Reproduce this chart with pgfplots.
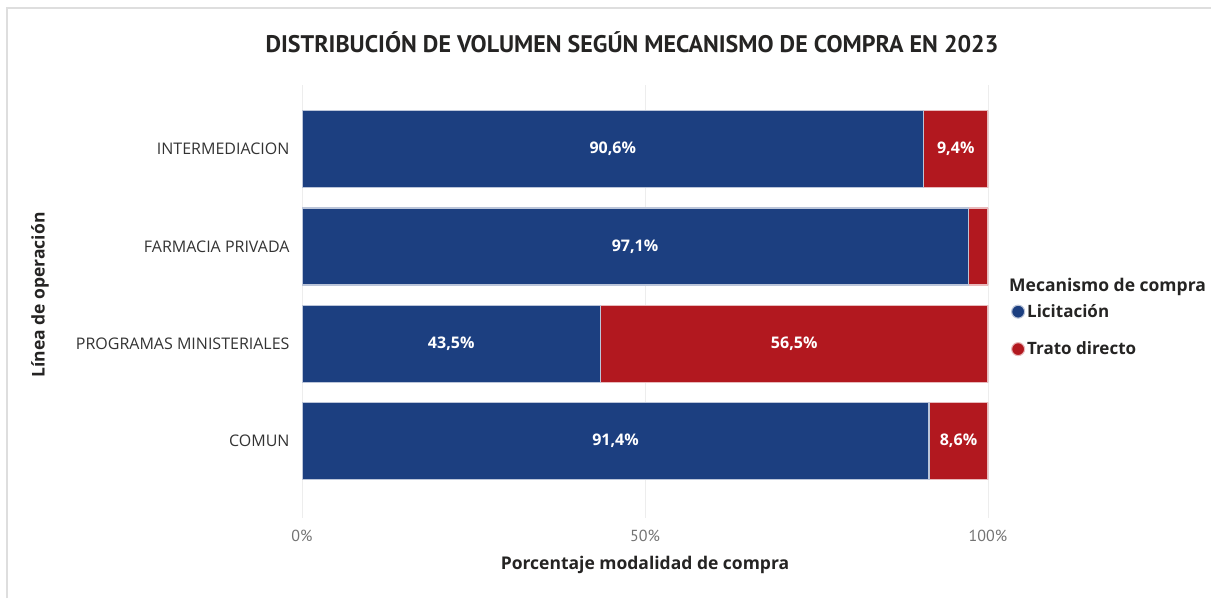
\documentclass[border=0pt]{standalone}
\usepackage{fontspec}
\setmainfont{Open Sans}
\newfontfamily\dinfont{PT Sans}
\usepackage{pgfplots}
\pgfplotsset{compat=1.18}
\definecolor{blueC}{HTML}{1C3F80}
\definecolor{redC}{HTML}{B2181F}
\definecolor{txt}{HTML}{252423}
\begin{document}
\begin{tikzpicture}[x=1pt,y=1pt]
\path[use as bounding box] (0,0) rectangle (1211,598);
\draw[color=black!13, line width=2pt] (7,0) -- (7,590) -- (1211,590);
\node[font=\dinfont\bfseries\fontsize{24}{28}\selectfont, text=txt] at (632,556) {DISTRIBUCIÓN DE VOLUMEN SEGÚN MECANISMO DE COMPRA EN 2023};
\node[rotate=90, font=\bfseries\fontsize{17.5}{20}\selectfont, text=txt] at (40,303) {Línea de operación};
\node[font=\bfseries\fontsize{17.5}{20}\selectfont, text=txt] at (645,33) {Porcentaje modalidad de compra};
\node[anchor=west, font=\bfseries\fontsize{17.5}{20}\selectfont, text=txt, inner sep=0pt] at (1009,311) {Mecanismo de compra};
\begin{axis}[
  at={(302pt,80pt)}, anchor=south west,
  scale only axis, width=686pt, height=433pt,
  xbar stacked, bar width=77pt,
  xmin=0, xmax=100, ymin=-0.79, ymax=3.66,
  axis line style={draw=none},
  major tick length=0pt,
  xtick={0,50,100}, xticklabels={0\%,50\%,100\%},
  xmajorgrids, major x grid style={color=black!7, line width=1pt},
  xticklabel style={font=\dinfont\fontsize{16}{18}\selectfont, text=black!55, yshift=-9pt},
  ytick={0,1,2,3},
  yticklabels={COMUN,PROGRAMAS MINISTERIALES,FARMACIA PRIVADA,INTERMEDIACION},
  yticklabel style={font=\fontsize{16}{18}\selectfont, text=black!80, xshift=-9pt},
  visualization depends on={rawx \as \rawx},
  nodes near coords={\pgfmathparse{\rawx>5}\ifdim\pgfmathresult pt>0.5pt\pgfmathprintnumber[fixed,fixed zerofill,precision=1,use comma,assume math mode=true]{\rawx}\%\fi},
  every node near coord/.append style={anchor=center, text=white, font=\bfseries\fontsize{16}{18}\selectfont},
  legend style={at={(rel axis cs:1.029,0.503)}, anchor=north west, draw=none, fill=none, font=\bfseries\fontsize{17}{20}\selectfont, text=txt, row sep=19pt, /tikz/every even column/.append style={column sep=2pt}},
  legend cell align=left,
  legend image code/.code={\fill[#1] (3pt,0pt) circle (6.5pt);},
]
\addplot[fill=blueC, draw=blueC!30!white, line width=1.1pt] coordinates {(91.4,0) (43.5,1) (97.1,2) (90.6,3)};
\addplot[fill=redC, draw=redC!30!white, line width=1.1pt] coordinates {(8.6,0) (56.5,1) (2.9,2) (9.4,3)};
\legend{Licitación,Trato directo}
\end{axis}
\end{tikzpicture}
\end{document}
